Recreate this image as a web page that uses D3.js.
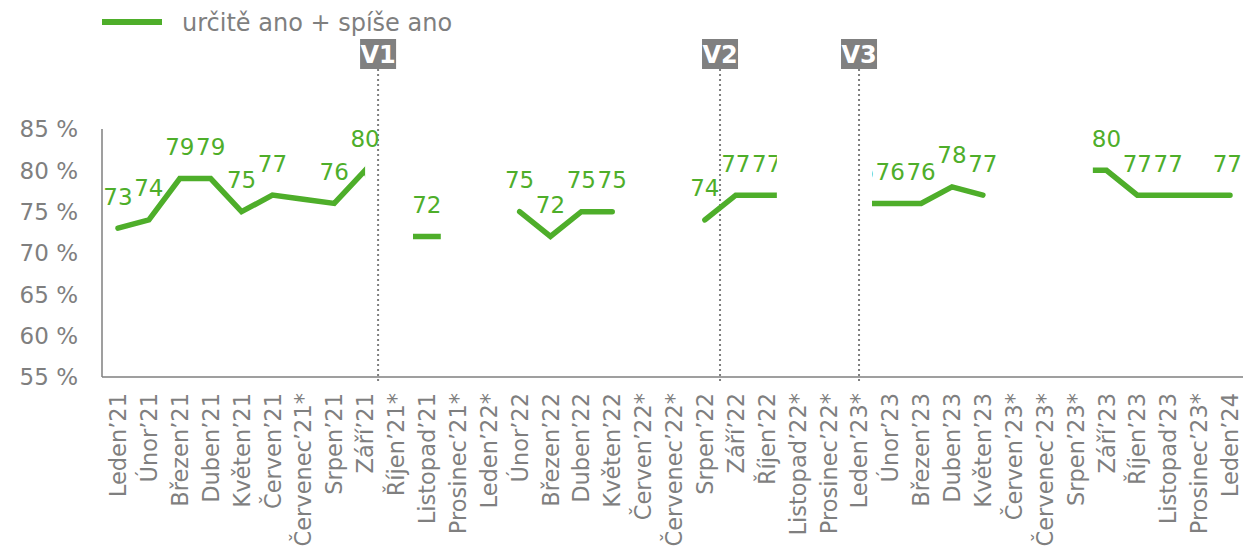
<!DOCTYPE html>
<html>
<head>
<meta charset="utf-8">
<script src="https://cdn.jsdelivr.net/npm/d3@7"></script>
<style>
  body { margin: 0; background: #fff; }
  svg text { font-family: "DejaVu Sans", Verdana, sans-serif; }
</style>
</head>
<body>
<svg width="1243" height="555"></svg>
<script>
// Chart data
const categories = [
  "Leden’21", "Únor’21", "Březen’21", "Duben’21", "Květen’21", "Červen’21", "Červenec’21*", "Srpen’21", "Září’21",
  "Říjen’21*", "Listopad’21", "Prosinec’21*", "Leden’22*", "Únor’22", "Březen’22", "Duben’22", "Květen’22",
  "Červen’22*", "Červenec’22*", "Srpen’22", "Září’22", "Říjen’22", "Listopad’22*", "Prosinec’22*", "Leden’23*",
  "Únor’23", "Březen’23", "Duben’23", "Květen’23", "Červen’23*", "Červenec’23*", "Srpen’23*", "Září’23",
  "Říjen’23", "Listopad’23", "Prosinec’23*", "Leden’24"
];
const values = [
  73, 74, 79, 79, 75, 77, 76.5, 76, 80,
  72, 72, 72, null, 75, 72, 75, 75,
  null, null, 74, 77, 77, 77, null, 76,
  76, 76, 78, 77, null, null, 80, 80,
  77, 77, 77, 77
];
const noLabel = ["Červenec’21*", "Prosinec’23*"];
// visible stretches of the series, in category-index units
const windows = [[-0.5, 8], [9.55, 10.45], [12.9, 16.1], [18.9, 21.33], [24.41, 28.1], [31.56, 36.5]];
const waves = [
  { name: "V1", at: 8.42 },
  { name: "V2", at: 19.49 },
  { name: "V3", at: 23.99 }
];
const yTicks = [55, 60, 65, 70, 75, 80, 85];
const seriesName = "určitě ano + spíše ano";

const green = "#4eae2a";
const gray = "#7f7f7f";

const svg = d3.select("svg");
const W = 1243, H = 555;

const x = d3.scalePoint().domain(categories).range([118, 1230]);
const step = x.step();
const xi = i => x(categories[0]) + i * step;
const y = d3.scaleLinear().domain([55, 85]).range([377, 129]);

// labels are only cut where the line is cut, not at natural ends of a run
const nearInt = v => Math.abs(v - Math.round(v)) < 0.15;
const labelEdge = (v, side) => nearInt(v) ? Math.round(v) + side * 0.5 : v;

const defs = svg.append("defs");
defs.append("clipPath").attr("id", "line-clip")
  .selectAll("rect").data(windows).enter().append("rect")
  .attr("x", d => xi(d[0])).attr("width", d => xi(d[1]) - xi(d[0]))
  .attr("y", 0).attr("height", H);
defs.append("clipPath").attr("id", "label-clip")
  .selectAll("rect").data(windows).enter().append("rect")
  .attr("x", d => xi(labelEdge(d[0], -1)))
  .attr("width", d => xi(labelEdge(d[1], 1)) - xi(labelEdge(d[0], -1)))
  .attr("y", 0).attr("height", H);

// Legend
svg.append("line")
  .attr("x1", 102).attr("x2", 162).attr("y1", 22).attr("y2", 22)
  .attr("stroke", green).attr("stroke-width", 6);
svg.append("text")
  .attr("x", 182).attr("y", 31)
  .attr("fill", gray).attr("font-size", 24)
  .text(seriesName);

// Y axis labels
svg.selectAll(".ytick").data(yTicks).enter().append("text")
  .attr("class", "ytick")
  .attr("x", 78).attr("y", d => y(d)).attr("dy", "0.36em")
  .attr("text-anchor", "end")
  .attr("fill", gray).attr("font-size", 23)
  .text(d => d + " %");

// Axis lines
svg.append("line").attr("x1", 102).attr("x2", 102).attr("y1", y(85)).attr("y2", y(55))
  .attr("stroke", gray).attr("stroke-width", 1.5);
svg.append("line").attr("x1", 102).attr("x2", W).attr("y1", y(55)).attr("y2", y(55))
  .attr("stroke", gray).attr("stroke-width", 1.5);

// X labels (rotated)
svg.selectAll(".xtick").data(categories).enter().append("text")
  .attr("class", "xtick")
  .attr("transform", d => `translate(${x(d)},393) rotate(-90)`)
  .attr("dy", "0.36em")
  .attr("text-anchor", "end")
  .attr("fill", gray).attr("font-size", 22.5)
  .text(d => d);

// Wave markers
const wave = svg.selectAll(".wave").data(waves).enter().append("g").attr("class", "wave");
wave.append("line")
  .attr("x1", d => xi(d.at)).attr("x2", d => xi(d.at))
  .attr("y1", 69).attr("y2", 381)
  .attr("stroke", gray).attr("stroke-width", 2).attr("stroke-dasharray", "2,3");
wave.append("rect")
  .attr("x", d => xi(d.at) - 18).attr("y", 39).attr("width", 36).attr("height", 30)
  .attr("fill", "#808080");
wave.append("text")
  .attr("x", d => xi(d.at)).attr("y", 54).attr("dy", "0.37em")
  .attr("text-anchor", "middle").attr("fill", "#fff")
  .attr("font-size", 24).attr("font-weight", "bold")
  .text(d => d.name);

// Series line
const pts = categories.map((c, i) => ({ c, v: values[i] }));
const line = d3.line()
  .defined(d => d.v != null)
  .x(d => x(d.c))
  .y(d => y(d.v));
svg.append("path")
  .datum(pts)
  .attr("clip-path", "url(#line-clip)")
  .attr("fill", "none")
  .attr("stroke", green).attr("stroke-width", 5.5)
  .attr("stroke-linecap", "round").attr("stroke-linejoin", "miter")
  .attr("d", line);

// Data labels (kept inside the right edge)
svg.append("g").attr("clip-path", "url(#label-clip)")
  .selectAll("text")
  .data(pts.filter(d => d.v != null && !noLabel.includes(d.c)))
  .enter().append("text")
  .attr("y", d => y(d.v) - 23.5)
  .attr("text-anchor", "middle")
  .attr("fill", green).attr("font-size", 23)
  .text(d => d.v)
  .attr("x", function(d) {
    const half = this.getComputedTextLength() / 2;
    return Math.min(x(d.c), W - 1 - half);
  });
</script>
</body>
</html>
